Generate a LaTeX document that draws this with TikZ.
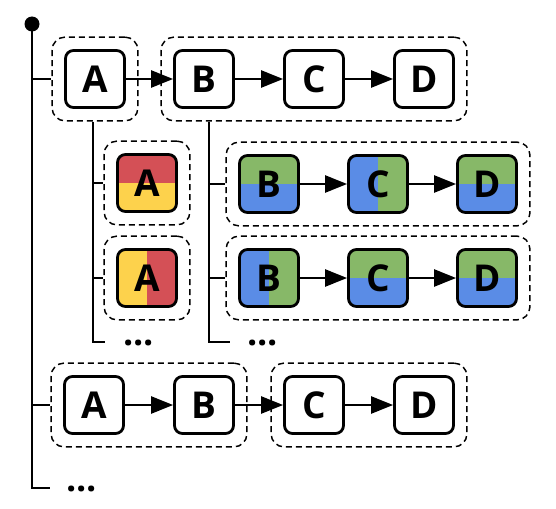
\documentclass[tikz,border=0pt]{standalone}
\usepackage{fontspec}
\setmainfont{Open Sans}
\usetikzlibrary{arrows.meta,fit}
\definecolor{cred}{RGB}{212,80,86}
\definecolor{cyel}{RGB}{253,210,76}
\definecolor{cgrn}{RGB}{135,184,104}
\definecolor{cblu}{RGB}{90,140,230}
\begin{document}
\begin{tikzpicture}[x=1pt,y=-1pt,
 box/.style={draw, line width=2.8pt, rounded corners=8pt, minimum width=59pt, minimum height=57pt, inner sep=0pt, font=\fontsize{37}{40}\selectfont\bfseries},
 grp/.style={draw, dash pattern=on 6pt off 4pt, line width=1.5pt, rounded corners=13pt, inner sep=12pt},
 arr/.style={line width=2.4pt, -{Triangle[length=22pt,width=17pt]}},
 tree/.style={line width=1.8pt},
 dotsnode/.style={anchor=west, inner sep=0pt, font=\fontsize{36}{40}\selectfont\bfseries},
 hsplit/.style 2 args={path picture={\fill[#1, sharp corners] (path picture bounding box.north west) rectangle (path picture bounding box.east); \fill[#2, sharp corners] (path picture bounding box.west) rectangle (path picture bounding box.south east);}},
 vsplit/.style 2 args={path picture={\fill[#1, sharp corners] (path picture bounding box.north west) rectangle (path picture bounding box.south); \fill[#2, sharp corners] (path picture bounding box.north) rectangle (path picture bounding box.south east);}}
]
\useasboundingbox (0,0) rectangle (556,508);

% row 1
\node[box] (A1) at (95,79) {A};
\node[box] (B1) at (204,79) {B};
\node[box] (C1) at (314,79) {C};
\node[box] (D1) at (424,79) {D};
\node[grp, fit=(A1)] (gA1) {};
\node[grp, fit=(B1)(D1)] (gB1) {};
\draw[arr] (A1) -- (B1);
\draw[arr] (B1) -- (C1);
\draw[arr] (C1) -- (D1);

% coloured A variants
\node[box, hsplit={cred}{cyel}] (Aa) at (147,183) {A};
\node[box, vsplit={cyel}{cred}] (Ab) at (147,278) {A};
\node[grp, fit=(Aa)] (gAa) {};
\node[grp, fit=(Ab)] (gAb) {};

% coloured B-C-D variants
\node[box, hsplit={cgrn}{cblu}] (Ba) at (269,184) {B};
\node[box, vsplit={cblu}{cgrn}] (Ca) at (378,184) {C};
\node[box, hsplit={cgrn}{cblu}] (Da) at (487,184) {D};
\node[box, vsplit={cblu}{cgrn}] (Bb) at (269,278) {B};
\node[box, hsplit={cgrn}{cblu}] (Cb) at (378,278) {C};
\node[box, hsplit={cgrn}{cblu}] (Db) at (487,278) {D};
\node[grp, fit=(Ba)(Da)] (gBa) {};
\node[grp, fit=(Bb)(Db)] (gBb) {};
\draw[arr] (Ba) -- (Ca);
\draw[arr] (Ca) -- (Da);
\draw[arr] (Bb) -- (Cb);
\draw[arr] (Cb) -- (Db);

% bottom row
\node[box] (A2) at (94,405) {A};
\node[box] (B2) at (204,405) {B};
\node[box] (C2) at (314,405) {C};
\node[box] (D2) at (424,405) {D};
\node[grp, fit=(A2)(B2)] (gA2) {};
\node[grp, fit=(C2)(D2)] (gC2) {};
\draw[arr] (A2) -- (B2);
\draw[arr] (B2) -- (C2);
\draw[arr] (C2) -- (D2);

% main tree
\node[circle, fill, inner sep=0pt, minimum size=15pt] (root) at (32,24) {};
\coordinate (r1) at (32,488);
\coordinate (r1e) at (50,488);
\node[dotsnode] (dots0) at (66,489) {...};
\draw[tree] (root.center) -- (r1) -- (r1e);
\draw[tree] (root.center |- gA1.west) -- (gA1.west);
\draw[tree] (root.center |- gA2.west) -- (gA2.west);

% sub tree under A
\coordinate (s1) at (93,342);
\coordinate (s1e) at (105,342);
\node[dotsnode] (dots1) at (123,343) {...};
\draw[tree] (s1 |- gA1.south) -- (s1) -- (s1e);
\draw[tree] (s1 |- gAa.west) -- (gAa.west);
\draw[tree] (s1 |- gAb.west) -- (gAb.west);

% sub tree under B-D
\coordinate (s2) at (209,342);
\coordinate (s2e) at (230,342);
\node[dotsnode] (dots2) at (247,343) {...};
\draw[tree] (s2 |- gB1.south) -- (s2) -- (s2e);
\draw[tree] (s2 |- gBa.west) -- (gBa.west);
\draw[tree] (s2 |- gBb.west) -- (gBb.west);
\end{tikzpicture}
\end{document}
